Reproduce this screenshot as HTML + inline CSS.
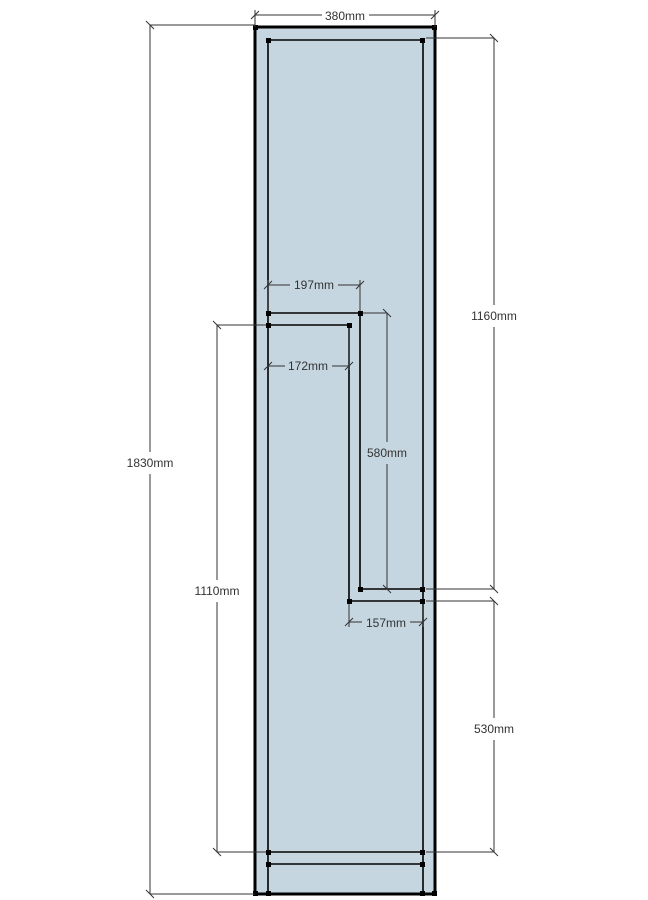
<!DOCTYPE html>
<html><head><meta charset="utf-8"><style>
html,body{margin:0;padding:0;background:#fff;}
svg{display:block}
text{font-family:"Liberation Sans",sans-serif;font-size:12px;fill:#333;}
</style></head><body>
<svg width="648" height="900" viewBox="0 0 648 900" xmlns="http://www.w3.org/2000/svg">
<rect x="255" y="27" width="180" height="867" fill="#c6d6e0" stroke="#000" stroke-width="3"/>
<g stroke="#000" stroke-width="1.6" fill="none">
<line x1="268" y1="40" x2="268" y2="894"/>
<line x1="423" y1="40" x2="423" y2="894"/>
<line x1="268" y1="40" x2="423" y2="40"/>
<line x1="268" y1="852" x2="423" y2="852"/>
<line x1="268" y1="864" x2="423" y2="864"/>
<polyline points="268,313 360,313 360,589 423,589"/>
<polyline points="268,325 349,325 349,601 423,601"/>
</g>
<g fill="#000">
<rect x="253" y="25" width="5" height="5"/><rect x="432" y="25" width="5" height="5"/>
<rect x="266" y="38" width="5" height="5"/><rect x="420" y="38" width="5" height="5"/>
<rect x="266" y="311" width="5" height="5"/><rect x="358" y="311" width="5" height="5"/>
<rect x="266" y="323" width="5" height="5"/><rect x="347" y="323" width="5" height="5"/>
<rect x="358" y="587" width="5" height="5"/><rect x="420" y="587" width="5" height="5"/>
<rect x="347" y="599" width="5" height="5"/><rect x="420" y="599" width="5" height="5"/>
<rect x="266" y="850" width="5" height="5"/><rect x="420" y="850" width="5" height="5"/>
<rect x="266" y="862" width="5" height="5"/><rect x="420" y="862" width="5" height="5"/>
<rect x="253" y="891" width="5" height="5"/><rect x="266" y="891" width="5" height="5"/>
<rect x="420" y="891" width="5" height="5"/><rect x="432" y="891" width="5" height="5"/>
</g>
<g stroke="#333" stroke-width="1" fill="none">
<!-- 380 -->
<line x1="255" y1="10" x2="255" y2="27"/><line x1="435" y1="10" x2="435" y2="27"/>
<line x1="255" y1="15" x2="322" y2="15"/><line x1="369" y1="15" x2="435" y2="15"/>
<line x1="251" y1="19" x2="259" y2="11"/><line x1="431" y1="19" x2="439" y2="11"/>
<!-- 1830 -->
<line x1="150" y1="25" x2="255" y2="25"/><line x1="150" y1="894" x2="255" y2="894"/>
<line x1="150" y1="25" x2="150" y2="452"/><line x1="150" y1="474" x2="150" y2="894"/>
<line x1="146" y1="21" x2="154" y2="29"/><line x1="146" y1="890" x2="154" y2="898"/>
<!-- 1160 -->
<line x1="426" y1="38" x2="494" y2="38"/><line x1="426" y1="589" x2="494" y2="589"/>
<line x1="494" y1="38" x2="494" y2="305"/><line x1="494" y1="327" x2="494" y2="589"/>
<line x1="490" y1="34" x2="498" y2="42"/><line x1="490" y1="585" x2="498" y2="593"/>
<!-- 530 -->
<line x1="426" y1="601" x2="494" y2="601"/><line x1="426" y1="852" x2="494" y2="852"/>
<line x1="494" y1="601" x2="494" y2="718"/><line x1="494" y1="740" x2="494" y2="852"/>
<line x1="490" y1="597" x2="498" y2="605"/><line x1="490" y1="848" x2="498" y2="856"/>
<!-- 1110 -->
<line x1="217" y1="325" x2="266" y2="325"/><line x1="217" y1="852" x2="266" y2="852"/>
<line x1="217" y1="325" x2="217" y2="580"/><line x1="217" y1="602" x2="217" y2="852"/>
<line x1="213" y1="321" x2="221" y2="329"/><line x1="213" y1="848" x2="221" y2="856"/>
<!-- 580 -->
<line x1="363" y1="313" x2="387" y2="313"/>
<line x1="387" y1="313" x2="387" y2="442"/><line x1="387" y1="464" x2="387" y2="589"/>
<line x1="383" y1="309" x2="391" y2="317"/><line x1="383" y1="585" x2="391" y2="593"/>
<!-- 197 -->
<line x1="268" y1="280" x2="268" y2="311"/><line x1="360" y1="280" x2="360" y2="311"/>
<line x1="268" y1="285" x2="290" y2="285"/><line x1="338" y1="285" x2="360" y2="285"/>
<line x1="264" y1="289" x2="272" y2="281"/><line x1="356" y1="289" x2="364" y2="281"/>
<!-- 172 -->
<line x1="349" y1="328" x2="349" y2="370"/>
<line x1="268" y1="366" x2="285" y2="366"/><line x1="332" y1="366" x2="349" y2="366"/>
<line x1="264" y1="370" x2="272" y2="362"/><line x1="345" y1="370" x2="353" y2="362"/>
<!-- 157 -->
<line x1="349" y1="604" x2="349" y2="627"/><line x1="423" y1="604" x2="423" y2="627"/>
<line x1="349" y1="622" x2="362" y2="622"/><line x1="410" y1="622" x2="423" y2="622"/>
<line x1="345" y1="626" x2="353" y2="618"/><line x1="419" y1="626" x2="427" y2="618"/>
</g>
<text x="345" y="20" text-anchor="middle">380mm</text>
<text x="150" y="467" text-anchor="middle">1830mm</text>
<text x="494" y="320" text-anchor="middle">1160mm</text>
<text x="494" y="733" text-anchor="middle">530mm</text>
<text x="217" y="595" text-anchor="middle">1110mm</text>
<text x="387" y="457" text-anchor="middle">580mm</text>
<text x="314" y="289" text-anchor="middle">197mm</text>
<text x="308" y="370" text-anchor="middle">172mm</text>
<text x="386" y="627" text-anchor="middle">157mm</text>
</svg>
</body></html>
